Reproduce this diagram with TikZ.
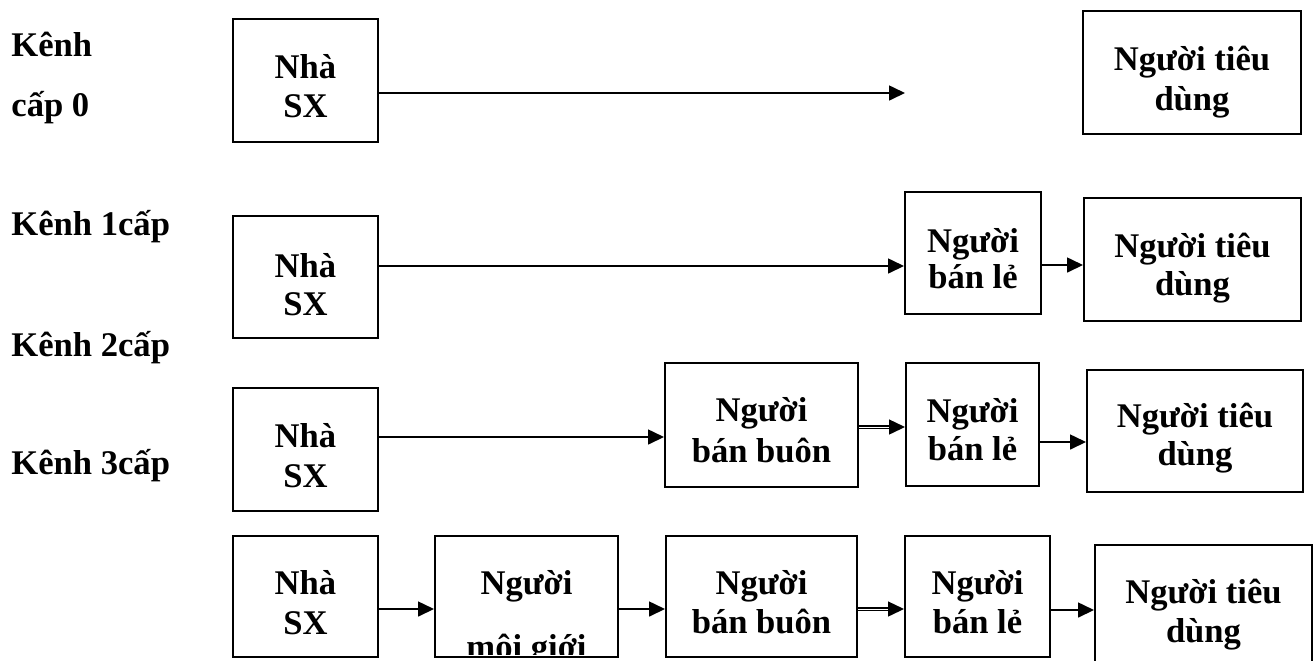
\documentclass[tikz,border=0pt]{standalone}
\usepackage{fontspec}
\setmainfont{Liberation Serif}
\usetikzlibrary{arrows.meta,fit}
\begin{document}
\begin{tikzpicture}[x=0.5pt,y=-0.5pt,
  box/.style={draw,line width=1pt,inner sep=0pt,rectangle},
  txt/.style={anchor=base,inner sep=0pt,font=\fontsize{17.3pt}{20pt}\selectfont\bfseries},
  lbl/.style={anchor=base west,inner sep=0pt,font=\fontsize{17.3pt}{20pt}\selectfont\bfseries},
  arr/.style={line width=0.8pt,-{Triangle[length=8pt,width=7.5pt]}},
  darr/.style={double,line width=0.7pt,double distance=0.3pt,-{Triangle[length=8pt,width=7.5pt]}}]
\useasboundingbox (0,0) rectangle (1315,660);
\clip (0,0) rectangle (1315,660);

% labels
\node[lbl] (l0a) at (11,56) {Kênh};
\node[lbl] (l0b) at (11,116) {cấp 0};
\node[lbl] (l1) at (11,235) {Kênh 1cấp};
\node[lbl] (l2) at (11,356) {Kênh 2cấp};
\node[lbl] (l3) at (11,474) {Kênh 3cấp};

% row 0
\node[box,fit={(233,19)(378,142)}] (p0) {};
\node[txt] (p0a) at (305.5,78) {Nhà};
\node[txt] (p0b) at (305.5,117) {SX};
\node[box,fit={(1083,11)(1301,134)}] (c0) {};
\node[txt] (c0a) at (1192,70) {Người tiêu};
\node[txt] (c0b) at (1192,110) {dùng};
\coordinate (e0) at (905,93);
\draw[arr] (p0.east |- e0) -- (e0);

% row 1
\node[box,fit={(233,216)(378,338)}] (p1) {};
\node[txt] (p1a) at (305.5,277) {Nhà};
\node[txt] (p1b) at (305.5,315) {SX};
\node[box,fit={(905,192)(1041,314)}] (r1) {};
\node[txt] (r1a) at (973,252) {Người};
\node[txt] (r1b) at (973,288) {bán lẻ};
\node[box,fit={(1084,198)(1301,321)}] (c1) {};
\node[txt] (c1a) at (1192.5,257) {Người tiêu};
\node[txt] (c1b) at (1192.5,295) {dùng};
\draw[arr] (p1.east |- 0,266) -- (r1.west |- 0,266);
\draw[arr] (r1.east |- 0,265) -- (c1.west |- 0,265);

% row 2
\node[box,fit={(233,388)(378,511)}] (p2) {};
\node[txt] (p2a) at (305.5,447) {Nhà};
\node[txt] (p2b) at (305.5,487) {SX};
\node[box,fit={(665,363)(858,487)}] (w2) {};
\node[txt] (w2a) at (761.5,421) {Người};
\node[txt] (w2b) at (761.5,462) {bán buôn};
\node[box,fit={(906,363)(1039,486)}] (r2) {};
\node[txt] (r2a) at (972.5,422) {Người};
\node[txt] (r2b) at (972.5,460) {bán lẻ};
\node[box,fit={(1087,370)(1303,492)}] (c2) {};
\node[txt] (c2a) at (1195,427) {Người tiêu};
\node[txt] (c2b) at (1195,465) {dùng};
\draw[arr] (p2.east |- 0,437) -- (w2.west |- 0,437);
\draw[darr] (w2.east |- 0,427) -- (r2.west |- 0,427);
\draw[arr] (r2.east |- 0,442) -- (c2.west |- 0,442);

% row 3
\node[box,fit={(233,536)(378,657)}] (p3) {};
\node[txt] (p3a) at (305.5,594) {Nhà};
\node[txt] (p3b) at (305.5,634) {SX};
\node[box,fit={(435,536)(618,657)}] (m3) {};
\node[txt] (m3a) at (526.5,594) {Người};
\begin{scope}
  \clip (436,537) rectangle (617,654);
  \node[txt] (m3b) at (526.5,658) {môi giới};
\end{scope}
\node[box,fit={(666,536)(857,657)}] (w3) {};
\node[txt] (w3a) at (761.5,594) {Người};
\node[txt] (w3b) at (761.5,633) {bán buôn};
\node[box,fit={(905,536)(1050,657)}] (r3) {};
\node[txt] (r3a) at (977.5,594) {Người};
\node[txt] (r3b) at (977.5,633) {bán lẻ};
\node[box,fit={(1095,545)(1312,700)}] (c3) {};
\node[txt] (c3a) at (1203.5,603) {Người tiêu};
\node[txt] (c3b) at (1203.5,642) {dùng};
\draw[arr] (p3.east |- 0,609) -- (m3.west |- 0,609);
\draw[arr] (m3.east |- 0,609) -- (w3.west |- 0,609);
\draw[darr] (w3.east |- 0,609) -- (r3.west |- 0,609);
\draw[arr] (r3.east |- 0,610) -- (c3.west |- 0,610);
\end{tikzpicture}
\end{document}
